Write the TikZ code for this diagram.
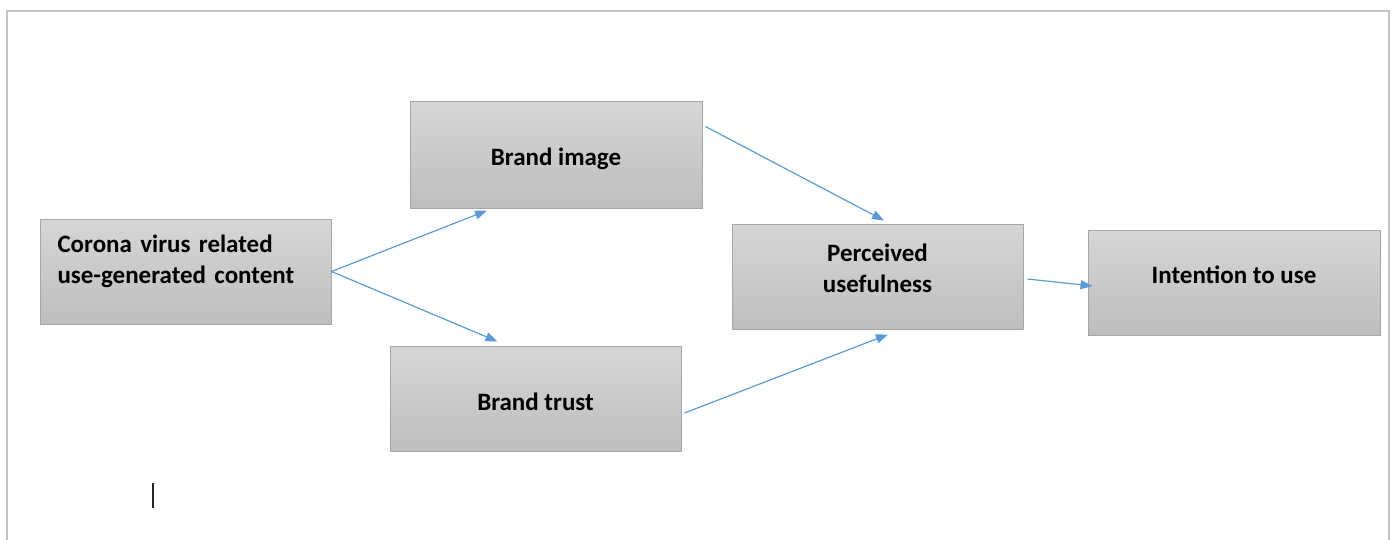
\documentclass[tikz,border=0pt]{standalone}
\usepackage{fontspec}
\setmainfont{Carlito}
\usetikzlibrary{arrows.meta}

\definecolor{boxtop}{HTML}{D6D6D6}
\definecolor{boxbot}{HTML}{BEBEBE}
\definecolor{boxline}{HTML}{A6A6A6}
\definecolor{framegray}{HTML}{C4C4C4}
\definecolor{arrowblue}{HTML}{5B9BD5}

\begin{document}
\begin{tikzpicture}[x=0.5pt, y=-0.5pt,
    box/.style={draw=boxline, line width=0.5pt, top color=boxtop, bottom color=boxbot,
        minimum width=145.5pt, minimum height=52.5pt, inner sep=0pt,
        font=\fontsize{12.5}{15.5}\selectfont\bfseries, align=center},
    link/.style={draw=arrowblue, line width=0.6pt, -{Triangle[length=6pt, width=4.5pt]}}
]

    % Page area and frame
    \useasboundingbox (0,0) rectangle (1396,540);
    \draw[framegray, line width=1pt] (7,541) -- (7,11) -- (1389,11) -- (1389,541);

    % Boxes
    \node[box, align=left, text width=128pt, text depth=28pt] (ugc) at (185.5,271.5)
        {Corona virus related\\use-generated content};
    \node[box, minimum width=146pt, minimum height=53pt, text height=12.5pt] (bimage) at (556,155) {Brand image};
    \node[box, text height=12pt] (btrust) at (535.5,398.5) {Brand trust};
    \node[box, text depth=8pt] (useful) at (877.5,276.5) {Perceived\\usefulness};
    \node[box, minimum width=146pt, text depth=8pt] (intent) at (1234,282.5) {Intention to use};

    % Paths
    \draw[link] (ugc.east) -- ([xshift=-34.5pt, yshift=-1pt]bimage.south);
    \draw[link] (ugc.east) -- ([xshift=-19pt, yshift=2pt]btrust.north);
    \draw[link] ([xshift=1.5pt, yshift=-12.5pt]bimage.north east) -- ([xshift=3.25pt, yshift=1.5pt]useful.north);
    \draw[link] ([xshift=1.5pt, yshift=-7.25pt]btrust.east) -- ([xshift=5.25pt, yshift=-2.5pt]useful.south);
    \draw[link] ([xshift=2pt, yshift=-1.25pt]useful.east) -- ([xshift=2.5pt, yshift=-1.75pt]intent.west);

    % Text cursor
    \draw[black!85, line width=0.8pt] (153,483) -- (153,508);

\end{tikzpicture}
\end{document}
